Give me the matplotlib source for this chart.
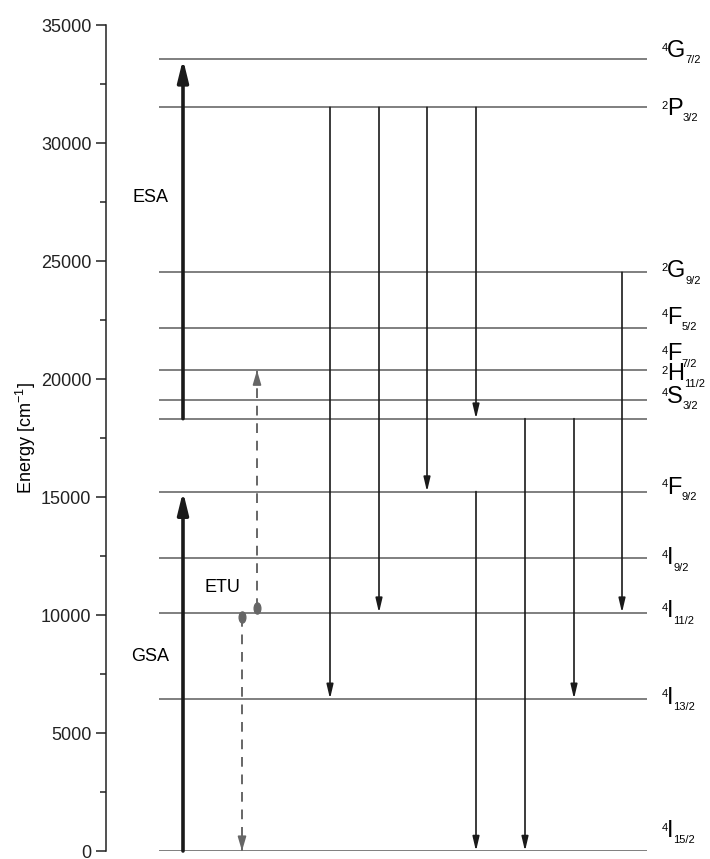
import matplotlib
matplotlib.use("Agg")
import matplotlib.pyplot as plt
from matplotlib.path import Path
from matplotlib.transforms import Affine2D

plt.rcParams['font.family'] = ['Liberation Sans', 'DejaVu Sans']
plt.rcParams['mathtext.fontset'] = 'custom'
plt.rcParams['mathtext.rm'] = 'Liberation Sans'

# Er3+ levels (cm^-1)
terms = ['4I15/2', '4I13/2', '4I11/2', '4I9/2', '4F9/2', '4S3/2',
         '2H11/2', '4F7/2', '4F5/2', '2G9/2', '2P3/2', '4G7/2']
energy = [0, 6450, 10100, 12400, 15230, 18320, 19090, 20370, 22140, 24520, 31510, 33550]
label_y = [850, 6500, 10150, 12400, 15400, 19250, 20200, 21050, 22600, 24570, 31450, 33900]

# absorption steps (lower, upper)
gsa = ('4I15/2', '4F9/2')
esa = ('4S3/2', '4G7/2')
# energy transfer upconversion: donor relaxes, acceptor is promoted
etu_down = (9900, 0)
etu_up = (10300, 20370)
# radiative decays (upper, lower)
decays = [('2P3/2', '4I13/2'), ('2P3/2', '4I11/2'), ('2P3/2', '4F9/2'),
          ('2P3/2', '4S3/2'), ('4F9/2', '4I15/2'), ('4S3/2', '4I15/2'),
          ('4S3/2', '4I13/2'), ('2G9/2', '4I11/2')]
decay_x = [330, 379, 427, 476, 476, 525, 574, 622]

E = dict(zip(terms, energy))

fig = plt.figure(figsize=(7.1, 8.59), dpi=100)
ax = fig.add_axes([106 / 710, 8 / 859, 604 / 710, 826 / 859])
ax.set_xlim(106, 710)
ax.set_ylim(0, 35000)

for t, e, ly in zip(terms, energy, label_y):
    ax.plot([159, 647], [e, e], color='#6a6a6a', lw=1.2, solid_capstyle='butt')
    letter = ax.text(667, ly, t[1], fontsize=17, va='center', ha='left')
    ax.annotate(t[0], xy=(0, 1), xycoords=letter, xytext=(0.5, -2),
                textcoords='offset points', fontsize=8, ha='right', va='top')
    ax.annotate(t[2:], xy=(1, 0), xycoords=letter, xytext=(0, -1),
                textcoords='offset points', fontsize=8, ha='left', va='baseline')


def arrow(x, y0, y1, lw, color='#1a1a1a', hl=0.9, hw=0.2):
    ax.annotate('', xy=(x, y1), xytext=(x, y0),
                arrowprops=dict(arrowstyle='-|>,head_length=%g,head_width=%g' % (hl, hw),
                                lw=lw, color=color, mutation_scale=10,
                                shrinkA=0, shrinkB=0),
                annotation_clip=False)


arrow(183, E[gsa[0]], E[gsa[1]], 2.6, hl=1.3, hw=0.32)
arrow(183, E[esa[0]], E[esa[1]], 2.6, hl=1.3, hw=0.32)
for x, (hi, lo) in zip(decay_x, decays):
    arrow(x, E[hi], E[lo], 1.2, hl=0.85, hw=0.2)

# dashed ETU arrows: dashed shaft plus a solid head
etu_col = '#666666'
for x, (y0, y1) in zip([242, 257], [etu_down, etu_up]):
    ax.plot([x, x], [y0, y1], color=etu_col, lw=1.4, ls=(0, (5, 4)))
    step = 350 if y1 > y0 else -350
    arrow(x, y1 - step, y1, 1.2, color=etu_col, hl=0.85, hw=0.25)
ell = Path.unit_circle().transformed(Affine2D().scale(0.6, 1.0))
ax.plot([242, 257], [etu_down[0], etu_up[0]], ls='none', marker=ell,
        ms=8, color=etu_col)

ax.text(133, 27700, 'ESA', fontsize=13, va='center')
ax.text(131, 8250, 'GSA', fontsize=13, va='center')
ax.text(205, 11150, 'ETU', fontsize=13, va='center')

for s in ['top', 'right', 'bottom']:
    ax.spines[s].set_visible(False)
ax.spines['left'].set_linewidth(1.1)
ax.spines['left'].set_color('#222222')
ax.set_xticks([])
ax.set_yticks(range(0, 35001, 5000))
ax.set_yticks(range(2500, 35000, 5000), minor=True)
ax.tick_params(axis='y', which='major', length=7, width=1.1, labelsize=13, colors='#222222')
ax.tick_params(axis='y', which='minor', length=4, width=1.1, colors='#222222')
ax.set_ylabel(r'Energy [cm$^{-1}$]', fontsize=13, labelpad=2)

fig.savefig('out.png', dpi=100)
